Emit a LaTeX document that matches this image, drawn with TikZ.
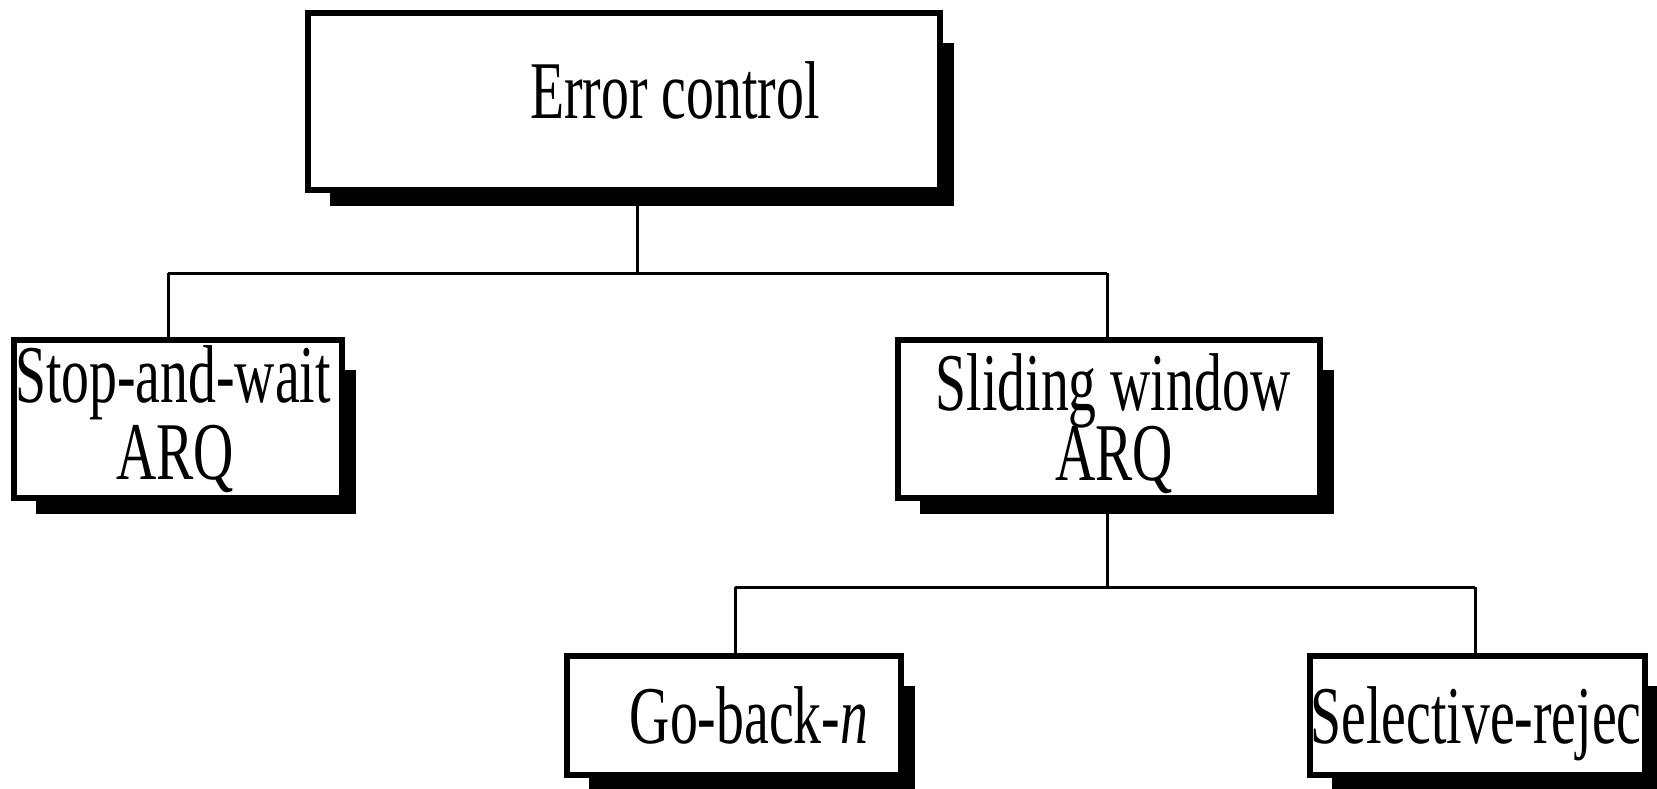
\documentclass[tikz,border=0pt]{standalone}
\usepackage{fontspec}
\setmainfont{Liberation Serif}
\usetikzlibrary{backgrounds}
\newcommand\sqz[1]{\scalebox{0.68}[1]{#1}}
\begin{document}
\begin{tikzpicture}[x=1pt,y=-1pt,
  box/.style={draw, line width=6pt, fill=white, inner sep=0pt, rectangle},
  txt/.style={anchor=base, inner sep=0pt, font=\fontsize{82}{82}\selectfont},
  wire/.style={line width=3pt},
  shadowfill/.style={fill=black}]
\useasboundingbox (0,0) rectangle (1657,788);
% boxes
\node[box, minimum width=632pt, minimum height=177pt] (top) at (624,101.5) {};
\node[box, minimum width=328pt, minimum height=158pt] (saw) at (178,419) {};
\node[box, minimum width=422pt, minimum height=158pt] (slide) at (1109,419) {};
\node[box, minimum width=334pt, minimum height=119pt] (gbn) at (734,715.5) {};
\node[box, minimum width=335pt, minimum height=119pt] (sel) at (1477.5,715.5) {};
% texts
\node[txt] (t0) at (675,118) {\sqz{Error control}};
\node[txt] (t1a) at (173,402) {\sqz{Stop-and-wait}};
\node[txt] (t1b) at (175,479) {\sqz{ARQ}};
\node[txt] (t2a) at (1113,410) {\sqz{Sliding window}};
\node[txt] (t2b) at (1114,480) {\sqz{ARQ}};
\node[txt] (t3) at (749,743) {\sqz{Go-back-\textit{n}}};
\node[txt] (t4) at (1476,743) {\sqz{Selective-rejec}};
% connectors
\coordinate (j0) at (637,273);
\coordinate (jl) at (168,273);
\coordinate (jr) at (1107,273);
\draw[wire] (top.south -| j0) -- (j0);
\draw[wire] (jl) -- (jr);
\draw[wire] (jl) -- (jl |- saw.north);
\draw[wire] (jr) -- (jr |- slide.north);
\coordinate (k0) at (1107,587);
\coordinate (kl) at (735,587);
\coordinate (kr) at (1475,587);
\draw[wire] (slide.south -| k0) -- (k0);
\draw[wire] (kl) -- (kr);
\draw[wire] (kl) -- (kl |- gbn.north);
\draw[wire] (kr) -- (kr |- sel.north);
% shadows
\begin{scope}[on background layer]
\fill[white] (0,0) rectangle (1657,788);
\foreach \b in {top,saw,slide,gbn,sel}{
  \fill[shadowfill] ([xshift=25pt,yshift=-33pt]\b.north west) rectangle ([xshift=11pt,yshift=-13pt]\b.south east);
}
\end{scope}
\end{tikzpicture}
\end{document}
